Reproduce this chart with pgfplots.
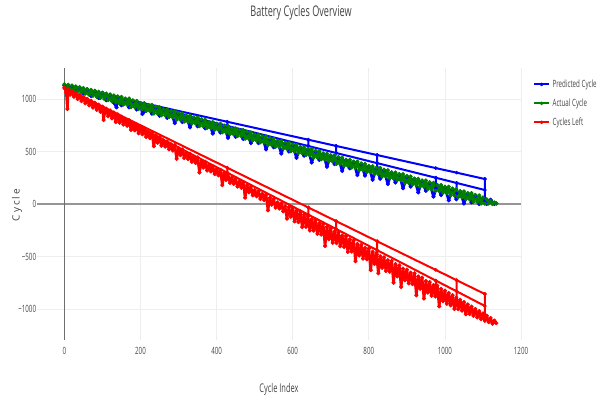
\documentclass[border=0pt]{standalone}
\usepackage{pgfplots}
\pgfplotsset{compat=1.18}
\usepackage{fontspec}
\setmainfont{Open Sans}[FakeStretch=0.62]
\newfontfamily\widefont{Open Sans}[LetterSpace=20]
\definecolor{pblue}{RGB}{0,0,255}
\definecolor{pgreen}{RGB}{0,128,0}
\definecolor{pred}{RGB}{255,0,0}
\definecolor{txtgray}{RGB}{68,68,68}
\definecolor{gridgray}{RGB}{238,238,238}
\definecolor{zerogray}{RGB}{150,150,150}
\definecolor{vzero}{RGB}{110,110,110}
\pgfplotsset{ser/.style={color=#1, line width=1.5pt, line join=round, mark=*, mark size=1.2pt, mark options={line width=0.4pt}},
  band/.style={ser=#1, line width=2pt, mark size=1.4pt}}
\begin{document}
\begin{tikzpicture}
\path[use as bounding box] (0,0) rectangle (453pt,301.5pt);
\begin{axis}[
  at={(27.75pt,46.5pt)}, anchor=south west,
  width=363pt, height=204pt, scale only axis,
  xmin=-72, xmax=1200, ymin=-1295, ymax=1295,
  xtick={0,200,400,600,800,1000,1200},
  xticklabels={0,200,400,600,800,1000,1200},
  ytick={-1000,-500,0,500,1000},
  yticklabels={−1000,−500,0,500,1000},
  axis line style={draw=none},
  major tick length=0pt,
  grid=major,
  major grid style={gridgray, line width=0.6pt},
  tick label style={font=\fontsize{7.5}{9}\selectfont, text=txtgray},
  xticklabel style={anchor=north, inner sep=0pt, yshift=-5.5pt},
  yticklabel style={anchor=east, inner sep=0pt, xshift=-0.5pt},
  unbounded coords=jump,
  legend style={draw=none, fill=none, at={(1.0248,0.968)}, anchor=north west,
    font=\fontsize{7.5}{9}\selectfont, text=txtgray, row sep=3pt, inner sep=0pt},
  legend cell align=left,
  legend image code/.code={\draw[mark repeat=2,mark phase=2,#1,line width=1.5pt,mark size=1.2pt] plot coordinates {(0pt,0pt) (5.5pt,0pt) (11pt,0pt)};},
]
\draw[zerogray, line width=1.5pt] (axis cs:-72,0) -- (axis cs:1200,0);
\draw[vzero, line width=0.6pt] (axis cs:0,-1295) -- (axis cs:0,1295);

% Predicted Cycle
\addplot[band=pblue] coordinates {
(0,1132)(10,1095)(20,1125)(30,1072)(40,1110)(50,1050)(60,1092)(70,1028)(80,1075)(90,1008)
(100,1058)(110,988)(120,1040)(130,965)(137,920)(140,1020)(150,940)(160,1000)(170,920)(180,980)(190,900)
(200,960)(205,857)(210,880)(220,940)(230,860)(240,920)(250,840)(260,900)(270,820)(280,880)(290,770)
(300,860)(310,780)(320,840)(330,730)(340,820)(350,740)(360,800)(370,720)(380,780)(390,670)
(400,760)(410,680)(420,740)(430,630)(440,720)(450,640)(460,700)(470,620)(480,680)(490,580)
(500,660)(510,580)(520,640)(530,520)(540,620)(550,540)(560,600)(570,480)(580,580)(590,500)
(600,560)(610,440)(620,540)(630,460)(640,520)(650,395)(660,500)(670,420)(680,480)(690,355)
(700,460)(710,380)(720,440)(730,315)(740,420)(750,340)(760,400)(770,275)(780,380)(790,270)
(800,360)(810,230)(820,340)(830,240)(840,320)(850,190)(860,300)(870,205)(880,280)(890,150)
(900,260)(910,165)(920,240)(930,110)(940,220)(950,125)(960,200)(970,70)(980,180)(990,85)
(1000,160)(1010,35)(1020,140)(1030,45)(1040,120)(1050,5)(1060,100)(1070,15)(1080,80)(1090,0)
(1100,60)(1110,0)(1120,40)(1130,0)(1135,5)
};
\addlegendentry{Predicted Cycle}
\addplot[ser=pblue, forget plot] coordinates {
(0,1127)(428,783)(641,612)(714,553)(822,466)(976,342)(1031,298)(1105,238)
(0,nan)
(0,1130)(428,744)(641,552)(714,486)(822,389)(976,250)(1031,200)(1105,133)
(0,nan) (428,783)(428,744)
(0,nan) (641,612)(641,552)
(0,nan) (714,553)(714,486)
(0,nan) (822,466)(822,350)
(0,nan) (976,250)(976,150)
(0,nan) (1031,200)(1031,100)
(0,nan) (1105,238)(1105,30)
};

% Actual Cycle
\addplot[band=pgreen] coordinates {
(0,1140)(5,1105)(10,1135)(15,1095)(20,1128)(25,1083)(30,1120)(35,1073)(40,1112)(45,1062)
(50,1104)(55,1051)(60,1095)(65,1041)(70,1087)(75,1030)(80,1078)(85,1020)(90,1069)(95,1010)
(100,1060)(105,999)(110,1052)(115,989)(120,1043)(125,978)(130,1034)(135,968)(140,1025)(145,957)
(150,1020)(155,947)(160,1004)(165,945)(170,1004)(175,922)(180,987)(185,921)(190,982)(195,905)(200,961)(205,903)
(210,960)(215,887)(220,944)(225,885)(230,944)(235,862)(240,927)(245,861)(250,922)(255,845)(260,901)(265,843)
(270,900)(275,827)(280,884)(285,825)(290,884)(295,802)(300,867)(305,801)(310,862)(315,785)(320,841)(325,783)
(330,840)(335,767)(340,824)(345,765)(350,824)(355,742)(360,807)(365,741)(370,802)(375,725)(380,781)(385,723)
(390,780)(395,707)(400,764)(405,705)(410,764)(415,682)(420,747)(425,681)(430,742)(435,665)(440,721)(445,663)
(450,720)(455,647)(460,704)(465,645)(470,704)(475,622)(480,687)(485,621)(490,682)(495,605)(500,661)(505,603)
(510,660)(515,587)(520,644)(525,585)(530,644)(535,562)(540,627)(545,561)(550,622)(555,545)(560,601)(565,543)
(570,600)(575,527)(580,584)(585,525)(590,584)(595,502)(600,567)(605,501)(610,562)(615,485)(620,541)(625,483)
(630,540)(635,467)(640,524)(645,465)(650,524)(655,442)(660,507)(665,441)(670,502)(675,425)(680,481)(685,423)
(690,480)(695,407)(700,464)(705,405)(710,464)(715,382)(720,447)(725,381)(730,442)(735,365)(740,421)(745,363)
(750,420)(755,347)(760,404)(765,345)(770,404)(775,322)(780,387)(785,321)(790,382)(795,305)(800,361)(805,303)
(810,360)(815,287)(820,344)(825,285)(830,344)(835,262)(840,327)(845,261)(850,322)(855,245)(860,301)(865,243)
(870,300)(875,227)(880,284)(885,225)(890,284)(895,202)(900,267)(905,201)(910,262)(915,185)(920,241)(925,183)
(930,240)(935,167)(940,224)(945,165)(950,224)(955,142)(960,207)(965,141)(970,202)(975,125)(980,181)(985,123)
(990,180)(995,107)(1000,164)(1005,105)(1010,164)(1015,82)(1020,147)(1025,81)(1030,142)(1035,65)(1040,121)(1045,63)
(1050,120)(1055,47)(1060,104)(1065,45)(1070,104)(1075,22)(1080,87)(1085,21)(1090,82)(1095,5)(1100,61)(1105,3)
(1110,45)(1115,5)(1120,30)(1125,0)(1130,15)(1135,5)
};
\addlegendentry{Actual Cycle}

% Cycles Left
\addplot[band=pred] coordinates {
(0,1112)(5,1062)(8,905)(10,1094)(15,1041)(20,1076)(25,1021)(30,1057)(35,1000)(40,1039)(45,980)
(50,1020)(55,959)(60,1001)(65,939)(70,983)(75,918)(80,964)(85,897)(90,946)(95,877)
(100,927)(103,800)(105,856)(110,908)(115,836)(120,890)(125,815)(130,871)(135,780)(140,853)(145,774)
(150,831)(155,756)(160,804)(165,745)(170,797)(175,705)(180,767)(185,701)(190,756)(195,673)(200,723)(205,664)
(210,713)(215,638)(220,686)(225,627)(230,679)(235,550)(240,649)(245,583)(250,638)(255,555)(260,605)(265,546)
(270,595)(275,520)(280,568)(285,509)(290,561)(295,430)(300,531)(305,465)(310,520)(315,437)(320,487)(325,428)
(330,477)(335,402)(340,450)(345,391)(350,443)(355,300)(360,413)(365,347)(370,402)(375,319)(380,369)(385,310)
(390,359)(395,284)(400,332)(405,273)(410,325)(415,180)(420,295)(425,229)(430,284)(435,201)(440,251)(445,192)
(450,241)(455,166)(460,214)(465,155)(470,207)(475,60)(480,177)(485,111)(490,166)(495,83)(500,133)(505,74)
(510,123)(515,48)(520,96)(525,37)(530,89)(535,-60)(540,59)(545,-7)(550,48)(555,-35)(560,15)(565,-44)
(570,5)(575,-70)(580,-22)(585,-140)(590,-29)(595,-121)
(600,-36)(605,-166)(610,-64)(615,-173)(620,-70)(625,-220)(630,-100)(635,-217)(640,-112)(645,-252)(650,-144)(655,-254)
(660,-154)(665,-284)(670,-182)(675,-291)(680,-188)(685,-400)(690,-218)(695,-335)(700,-230)(705,-370)(710,-262)(715,-372)
(720,-272)(725,-402)(730,-300)(735,-409)(740,-306)(745,-456)(750,-336)(755,-453)(760,-348)(765,-545)(770,-380)(775,-490)
(780,-390)(785,-520)(790,-418)(795,-527)(800,-424)(805,-630)(810,-454)(815,-571)(820,-466)(825,-660)(830,-498)(835,-608)
(840,-508)(845,-638)(850,-536)(855,-645)(860,-542)(865,-750)(870,-572)(875,-689)(880,-584)(885,-790)(890,-616)(895,-726)
(900,-626)(905,-756)(910,-654)(915,-763)(920,-660)(925,-870)(930,-690)(935,-807)(940,-702)(945,-900)(950,-734)(955,-844)
(960,-744)(965,-874)(970,-772)(975,-881)(980,-778)(985,-975)(990,-808)(995,-925)
(1000,-825)(1005,-950)(1010,-848)(1015,-965)(1020,-869)(1025,-1000)(1030,-891)(1035,-1001)(1040,-912)(1045,-1016)
(1050,-934)(1055,-1050)(1060,-956)(1065,-1048)(1070,-977)(1075,-1064)(1080,-999)(1085,-1080)(1090,-1020)(1095,-1096)
(1100,-1042)(1105,-1112)(1110,-1064)(1115,-1125)(1120,-1085)(1125,-1140)(1130,-1110)(1135,-1135)
};
\addlegendentry{Cycles Left}
\addplot[ser=pred, forget plot] coordinates {
(0,1105)(428,345)(641,-33)(714,-163)(822,-355)(976,-628)(1031,-726)(1105,-857)
(0,nan)
(0,1100)(428,298)(641,-101)(714,-238)(822,-440)(976,-729)(1031,-832)(1105,-971)
(0,nan) (428,345)(428,298)
(0,nan) (641,-33)(641,-115)
(0,nan) (714,-163)(714,-240)
(0,nan) (822,-355)(822,-480)
(0,nan) (976,-729)(976,-800)
(0,nan) (1031,-726)(1031,-914)
(0,nan) (1105,-857)(1105,-1090)
};
\end{axis}
\node[font=\fontsize{11}{13}\selectfont, text=txtgray] at (225.75pt,291.75pt) {Battery Cycles Overview};
\node[font=\fontsize{9}{11}\selectfont, text=txtgray] at (209.25pt,9.5pt) {Cycle Index};
\node[font=\widefont\fontsize{7.5}{9}\selectfont, text=txtgray, rotate=90] at (12.75pt,147.75pt) {Cycle};
\end{tikzpicture}
\end{document}
